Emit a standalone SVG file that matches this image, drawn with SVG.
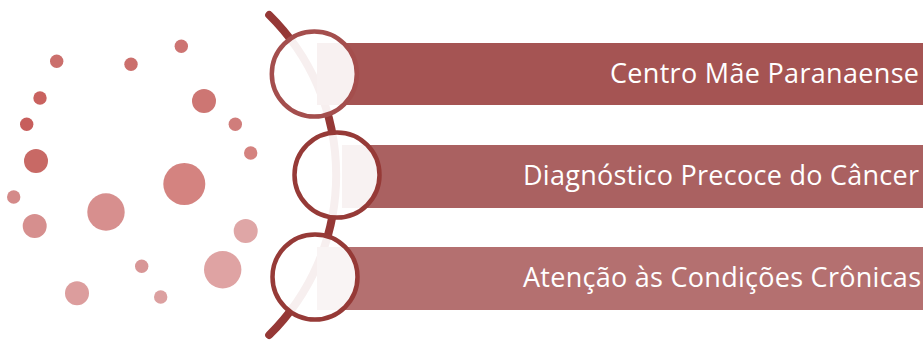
<svg xmlns="http://www.w3.org/2000/svg" width="923" height="340" viewBox="0 0 923 340">
<style>
.lbl{font-family:"Open Sans","Liberation Sans",sans-serif;font-size:27px;fill:#ffffff}
.lens{fill:#ffffff;fill-opacity:0.92;stroke-width:4.5}
</style>
<rect width="923" height="340" fill="#ffffff"/>
<g id="dots">
<circle cx="56.7" cy="61.3" r="6.7" fill="#cb6f6c"/>
<circle cx="131" cy="64.3" r="6.7" fill="#cb6f6c"/>
<circle cx="181.3" cy="46.3" r="6.7" fill="#cd7472"/>
<circle cx="40" cy="98" r="6.7" fill="#c9625f"/>
<circle cx="204" cy="101" r="12" fill="#cd7673"/>
<circle cx="26.7" cy="124.3" r="6.7" fill="#c75e5c"/>
<circle cx="235.3" cy="124.3" r="6.7" fill="#d07d7b"/>
<circle cx="36" cy="161" r="12" fill="#c86965"/>
<circle cx="250.7" cy="153" r="6.7" fill="#d4827f"/>
<circle cx="184.3" cy="184" r="21" fill="#d48380"/>
<circle cx="13.7" cy="197" r="6.7" fill="#d48a89"/>
<circle cx="106" cy="212" r="18.7" fill="#d78f8e"/>
<circle cx="34.7" cy="226" r="12" fill="#d68f8e"/>
<circle cx="245.7" cy="231" r="12" fill="#dfa6a6"/>
<circle cx="141.7" cy="266.3" r="6.7" fill="#d89696"/>
<circle cx="222.7" cy="269.7" r="18.7" fill="#dfa3a3"/>
<circle cx="77" cy="293.3" r="12" fill="#dc9d9d"/>
<circle cx="160.7" cy="297" r="6.7" fill="#dca0a0"/>
</g>
<g id="connectors">
<path d="M269.2,15 A224.6,224.6 0 0 1 269.2,335" fill="none" stroke="#953836" stroke-width="8" stroke-linecap="round"/>
</g>
<g id="node1">
<rect x="317" y="43" width="606" height="62" fill="#a55453"/>
<circle class="lens" cx="314.3" cy="74" r="42.5" stroke="#a44e4d"/>
<text class="lbl" x="610" y="83" textLength="309" lengthAdjust="spacing">Centro Mãe Paranaense</text>
</g>
<g id="node2">
<rect x="342" y="145" width="581" height="63" fill="#aa6161"/>
<circle class="lens" cx="337" cy="175" r="42.5" stroke="#963a37"/>
<text class="lbl" x="523" y="185" textLength="396" lengthAdjust="spacing">Diagnóstico Precoce do Câncer</text>
</g>
<g id="node3">
<rect x="317" y="247" width="606" height="63" fill="#b47070"/>
<circle class="lens" cx="315" cy="277" r="42.5" stroke="#963a37"/>
<text class="lbl" x="523" y="287" textLength="398" lengthAdjust="spacing">Atenção às Condições Crônicas</text>
</g>
</svg>
